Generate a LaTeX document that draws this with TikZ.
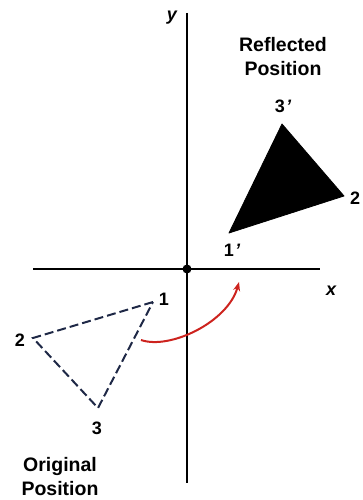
\documentclass[tikz,border=0pt]{standalone}
\usepackage{fontspec}
\setmainfont{Liberation Sans}
\usetikzlibrary{arrows.meta}
\definecolor{dashblue}{RGB}{30,40,70}
\definecolor{arcred}{RGB}{205,35,30}
\tikzset{
  axisline/.style={line width=1.8pt, black},
  lbl/.style={font=\fontsize{18}{18}\selectfont\bfseries, inner sep=0pt},
  captxt/.style={font=\fontsize{19.5}{24}\selectfont\bfseries, align=center, inner sep=0pt},
  axlbl/.style={font=\fontsize{18}{18}\selectfont\bfseries\itshape, inner sep=0pt},
  origtri/.style={line width=2pt, dashblue, dash pattern=on 9pt off 4pt},
  refltri/.style={fill=black, draw=black, line width=0.8pt, line join=round},
  redarc/.style={line width=2pt, arcred, -{Stealth[length=9pt,width=7pt]}}
}
\begin{document}
\begin{tikzpicture}[x=1pt,y=-1pt]
\useasboundingbox (0,0) rectangle (362,500);
% axes
\coordinate (xl) at (33,269);
\coordinate (xr) at (320,269);
\coordinate (yt) at (187,13);
\coordinate (yb) at (187,483);
\draw[axisline] (xl) -- (xr);
\draw[axisline] (yt) -- (yb);
\fill (187,269) circle (4.5pt) coordinate (o);
\node[axlbl] (xlab) at (331,291) {x};
\node[axlbl] (ylab) at (172,18) {y};
% original triangle
\coordinate (a1) at (153,302);
\coordinate (a2) at (33,338);
\coordinate (a3) at (98,408);
\draw[origtri] (a1) -- (a2) -- (a3) -- cycle;
\node[lbl] (l1) at (164,299) {1};
\node[lbl] (l2) at (20,340) {2};
\node[lbl] (l3) at (97,428) {3};
% reflected triangle
\coordinate (b1) at (229,233);
\coordinate (b2) at (344,196);
\coordinate (b3) at (282,124);
\filldraw[refltri] (b1) -- (b2) -- (b3) -- cycle;
\node[lbl] (m1) at (232,250) {1\kern1pt{\itshape '}};
\node[lbl] (m2) at (355,198) {2};
\node[lbl] (m3) at (283,106) {3\kern1pt{\itshape '}};
% arc
\coordinate (s) at (141,340);
\coordinate (e) at (239,282);
\draw[redarc] (s) .. controls (170,350) and (228,322) .. (e);
% captions
\node[captxt] (rp) at (283,57) {Reflected\\Position};
\node[captxt] (op) at (60,477) {Original\\Position};
\end{tikzpicture}
\end{document}
